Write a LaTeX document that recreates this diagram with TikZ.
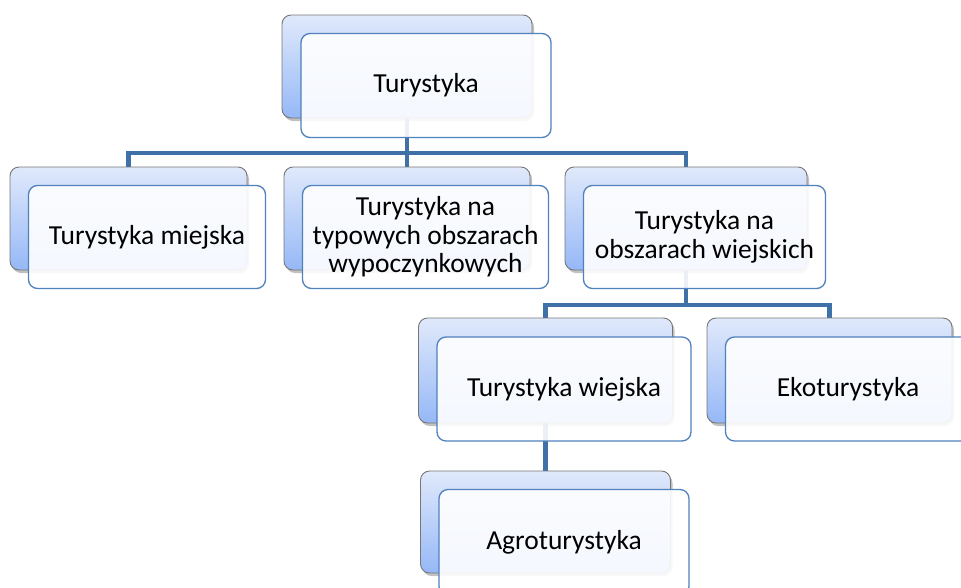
\documentclass[tikz,border=0pt]{standalone}
\usepackage{fontspec}
\setmainfont{Carlito}
\usetikzlibrary{shadows,backgrounds}
\definecolor{linkblue}{RGB}{64,112,168}
\definecolor{frontedge}{RGB}{79,129,189}
\definecolor{backedge}{RGB}{118,118,118}
\definecolor{backtop}{RGB}{224,233,251}
\definecolor{backbot}{RGB}{150,184,247}
\begin{document}
\begin{tikzpicture}[x=1pt,y=-1pt,
  backbox/.style={rectangle,rounded corners=9pt,draw=backedge,line width=0.9pt,
    top color=backtop,bottom color=backbot,inner sep=0pt,outer sep=0pt,
    drop shadow={shadow xshift=2pt,shadow yshift=-3pt,opacity=0.35,fill=black!70}},
  frontbox/.style={rectangle,rounded corners=9pt,draw=frontedge,line width=1.3pt,
    fill=white,fill opacity=0.9,text opacity=1,inner sep=0pt,outer sep=0pt,
    align=center,font=\fontsize{27.5}{28.5}\selectfont},
  link/.style={draw=linkblue,line width=4.5pt}]
\useasboundingbox (0,0) rectangle (961,587);

% root
\node[backbox,minimum width=250pt,minimum height=103pt] (b0) at (407,66.5) {};
\node[frontbox,minimum width=250pt,minimum height=104pt] (f0) at (426,85.5) {Turystyka};

% second level
\node[backbox,minimum width=237pt,minimum height=103pt] (b1) at (128.5,218.5) {};
\node[frontbox,minimum width=237pt,minimum height=103pt] (f1) at (147,237) {Turystyka miejska};

\node[backbox,minimum width=246pt,minimum height=103pt] (b2) at (407,218.5) {};
\node[frontbox,minimum width=246pt,minimum height=103pt] (f2) at (425.5,237) {Turystyka na\\typowych obszarach\\wypoczynkowych};

\node[backbox,minimum width=242pt,minimum height=103pt] (b3) at (686,218.5) {};
\node[frontbox,minimum width=242pt,minimum height=103pt] (f3) at (704.5,237) {Turystyka na\\obszarach wiejskich};

% third level
\node[backbox,minimum width=254pt,minimum height=105pt] (b4) at (545.5,370.5) {};
\node[frontbox,minimum width=254pt,minimum height=104pt] (f4) at (564,389) {Turystyka wiejska};

\node[backbox,minimum width=245pt,minimum height=105pt] (b5) at (829.5,370.5) {};
\node[frontbox,minimum width=245pt,minimum height=104pt] (f5) at (848,389) {Ekoturystyka};

% fourth level
\node[backbox,minimum width=250pt,minimum height=102pt] (b6) at (545.5,522) {};
\node[frontbox,minimum width=250pt,minimum height=106pt] (f6) at (564,542.5) {Agroturystyka};

% connectors behind the boxes
\begin{scope}[on background layer]
  \draw[link] (b0.south) -- ++(0,35) coordinate (j0);
  \draw[link] (b1.north) |- (j0) -| (b3.north);
  \draw[link] (b2.north) -- (b2.north |- j0);
  \draw[link] (b3.south) -- ++(0,35) coordinate (j1);
  \draw[link] (b4.north) |- (j1) -| (b5.north);
  \draw[link] (b4.south) -- (b6.north);
\end{scope}
\end{tikzpicture}
\end{document}
